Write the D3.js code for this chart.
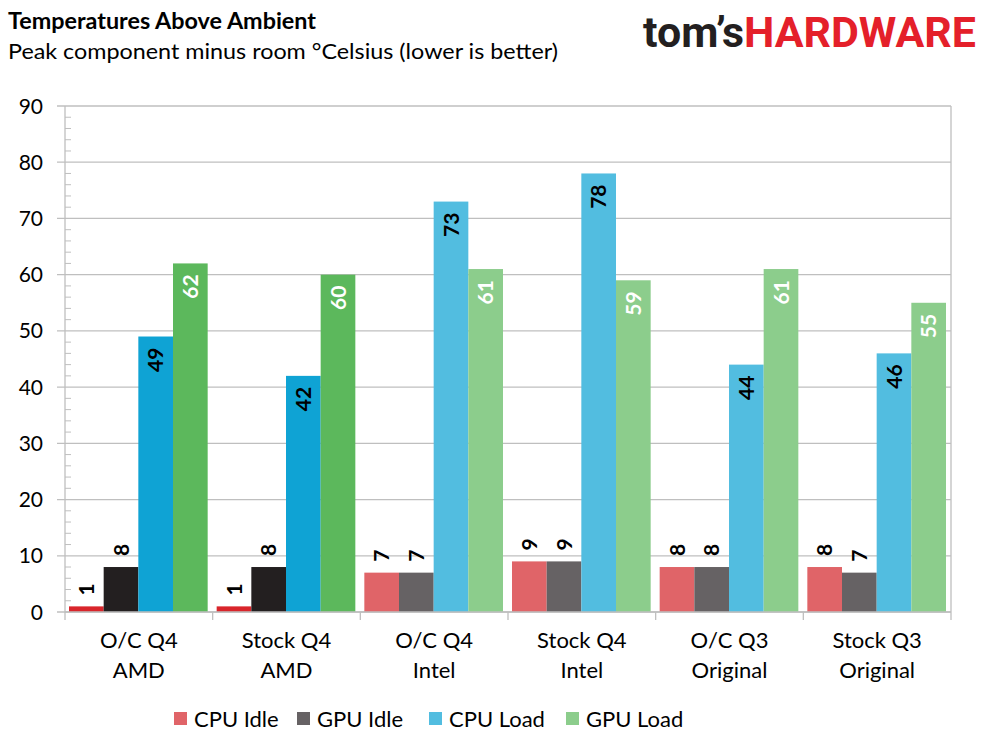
<!DOCTYPE html>
<html>
<head>
<meta charset="utf-8">
<script src="https://cdn.jsdelivr.net/npm/d3@7"></script>
<style>
  body { margin: 0; background: #fff; }
  text { font-family: Lato, "Open Sans", sans-serif; }
</style>
</head>
<body>
<svg id="chart" width="989" height="742"></svg>
<script>
// data
var groups = ["O/C Q4|AMD", "Stock Q4|AMD", "O/C Q4|Intel", "Stock Q4|Intel", "O/C Q3|Original", "Stock Q3|Original"];
var seriesNames = ["CPU Idle", "GPU Idle", "CPU Load", "GPU Load"];
var cpuIdle = [1, 1, 7, 9, 8, 8];
var gpuIdle = [8, 8, 7, 9, 8, 7];
var cpuLoad = [49, 42, 73, 78, 44, 46];
var gpuLoad = [62, 60, 61, 59, 61, 55];
var yTicks = [0, 10, 20, 30, 40, 50, 60, 70, 80, 90];

// AMD groups use the saturated palette, the rest the light one
var darkColors = ["#d9252b", "#231f20", "#0fa3d4", "#5cb85c"];
var lightColors = ["#e06468", "#666264", "#52bde0", "#8ccd8c"];
var labelColors = ["#000", "#000", "#000", "#fff"];

var allSeries = [cpuIdle, gpuIdle, cpuLoad, gpuLoad];

var margin = {top: 106, left: 65, right: 38, bottom: 130};
var width = 989 - margin.left - margin.right,
    height = 742 - margin.top - margin.bottom;

var svg = d3.select("#chart");

svg.append("text").attr("x", 8).attr("y", 29)
    .style("font-size", "22px").style("font-weight", "bold")
    .attr("textLength", 308).attr("lengthAdjust", "spacingAndGlyphs")
    .text("Temperatures Above Ambient");
svg.append("text").attr("x", 8).attr("y", 59)
    .style("font-size", "22px")
    .attr("textLength", 550).attr("lengthAdjust", "spacingAndGlyphs")
    .text("Peak component minus room °Celsius (lower is better)");

// logo
var logo = svg.append("text").attr("x", 643).attr("y", 47)
    .style("font-family", "Roboto, 'DejaVu Sans', sans-serif")
    .style("font-size", "42px").style("font-weight", "bold")
    .attr("textLength", 333).attr("lengthAdjust", "spacingAndGlyphs");
logo.append("tspan").attr("fill", "#231f20").text("tom’s");
logo.append("tspan").attr("fill", "#e4202a").text("HARDWARE");

var g = svg.append("g")
    .attr("transform", "translate(" + margin.left + "," + margin.top + ")");

var x0 = d3.scaleBand().domain(groups).range([0, width]).padding(0);
var x1 = d3.scaleBand().domain(seriesNames)
    .range([4, x0.bandwidth() - 5]).padding(0);
var y = d3.scaleLinear().domain([0, 90]).range([height, 0]);

// gridlines + major ticks
g.append("g").selectAll("line").data(yTicks).enter().append("line")
    .attr("x1", -8).attr("x2", width)
    .attr("y1", function(d) { return y(d); })
    .attr("y2", function(d) { return y(d); })
    .attr("stroke", "#bfbfbf").attr("stroke-width", 1.3);

// minor ticks
var minor = d3.range(0, 90, 2).filter(function(d) { return d % 10 != 0; });
g.append("g").selectAll("line").data(minor).enter().append("line")
    .attr("x1", 0).attr("x2", 6)
    .attr("y1", function(d) { return y(d); })
    .attr("y2", function(d) { return y(d); })
    .attr("stroke", "#bfbfbf").attr("stroke-width", 1);

g.append("line").attr("x1", 0).attr("x2", 0).attr("y1", 0).attr("y2", height)
    .attr("stroke", "#bfbfbf").attr("stroke-width", 1.3);
g.append("line").attr("x1", width).attr("x2", width).attr("y1", 0).attr("y2", height)
    .attr("stroke", "#bfbfbf").attr("stroke-width", 1.3);

// y labels
g.append("g").selectAll("text").data(yTicks).enter().append("text")
    .attr("x", -22).attr("y", function(d) { return y(d); })
    .attr("dy", "0.36em").attr("text-anchor", "end")
    .style("font-size", "21px")
    .text(function(d) { return d; });

// bars
var rows = groups.map(function(grp, i) {
    return {group: grp, amd: i < 2, values: allSeries.map(function(s, j) {
        return {name: seriesNames[j], idx: j, value: s[i]};
    })};
});

var grp = g.selectAll(".grp").data(rows).enter().append("g")
    .attr("transform", function(d) { return "translate(" + x0(d.group) + ",0)"; });

grp.each(function(row) {
    var sel = d3.select(this);
    sel.selectAll("rect").data(row.values).enter().append("rect")
        .attr("x", function(d) { return x1(d.name); })
        .attr("width", x1.bandwidth())
        .attr("y", function(d) { return y(d.value); })
        .attr("height", function(d) { return height - y(d.value); })
        .attr("fill", function(d) { return (row.amd ? darkColors : lightColors)[d.idx]; });

    sel.selectAll("text").data(row.values).enter().append("text")
        .attr("transform", function(d) {
            var cx = x1(d.name) + x1.bandwidth() / 2;
            return "translate(" + cx + "," + y(d.value) + ") rotate(-90)";
        })
        .attr("x", function(d) { return d.idx < 2 ? 11 : -11; })
        .attr("dy", "0.36em")
        .attr("text-anchor", function(d) { return d.idx < 2 ? "start" : "end"; })
        .attr("fill", function(d) { return labelColors[d.idx]; })
        .style("font-size", "21px").style("font-weight", "bold")
        .text(function(d) { return d.value; });
});

// x axis
g.append("line").attr("x1", 0).attr("x2", width).attr("y1", height).attr("y2", height)
    .attr("stroke", "#bfbfbf").attr("stroke-width", 1.3);
g.append("g").selectAll("line").data(d3.range(groups.length + 1)).enter().append("line")
    .attr("x1", function(i) { return i * x0.step(); })
    .attr("x2", function(i) { return i * x0.step(); })
    .attr("y1", height).attr("y2", height + 8)
    .attr("stroke", "#bfbfbf").attr("stroke-width", 1.3);

var cat = g.append("g").selectAll("text").data(groups).enter().append("text")
    .attr("text-anchor", "middle")
    .attr("x", function(d) { return x0(d) + x0.bandwidth() / 2; })
    .style("font-size", "22px");
cat.append("tspan").attr("x", function(d) { return x0(d) + x0.bandwidth() / 2; })
    .attr("y", height + 36).text(function(d) { return d.split("|")[0]; });
cat.append("tspan").attr("x", function(d) { return x0(d) + x0.bandwidth() / 2; })
    .attr("y", height + 66).text(function(d) { return d.split("|")[1]; });

// legend
var legendX = [174, 297, 429, 566];
var leg = svg.append("g").selectAll("g").data(seriesNames).enter().append("g")
    .attr("transform", function(d, i) { return "translate(" + legendX[i] + ",711)"; });
leg.append("rect").attr("width", 13).attr("height", 13).attr("y", 1)
    .attr("fill", function(d, i) { return lightColors[i]; });
leg.append("text").attr("x", 20).attr("y", 16)
    .style("font-size", "22px")
    .text(function(d) { return d; });
</script>
</body>
</html>
